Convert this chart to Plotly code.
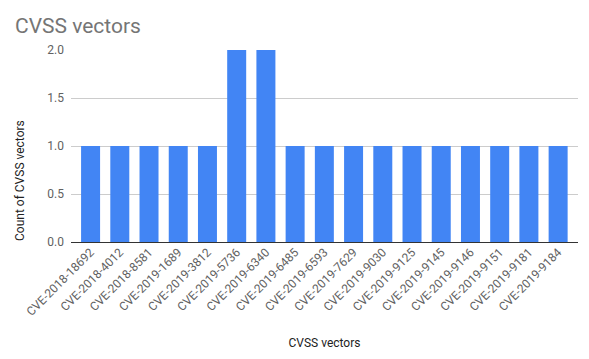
import plotly.graph_objects as go

categories = ["CVE-2018-18692", "CVE-2018-4012", "CVE-2018-8581", "CVE-2019-1689",
              "CVE-2019-3812", "CVE-2019-5736", "CVE-2019-6340", "CVE-2019-6485",
              "CVE-2019-6593", "CVE-2019-7629", "CVE-2019-9030", "CVE-2019-9125",
              "CVE-2019-9145", "CVE-2019-9146", "CVE-2019-9151", "CVE-2019-9181",
              "CVE-2019-9184"]
counts = [1, 1, 1, 1, 1, 2, 2, 1, 1, 1, 1, 1, 1, 1, 1, 1, 1]
y_ticks = [0.0, 0.5, 1.0, 1.5, 2.0]
y_tick_labels = ["0.0", "0.5", "1.0", "1.5", "2.0"]

fig = go.Figure(go.Bar(x=categories, y=counts, marker_color="#4285f4",
                       marker_line_width=0))

fig.update_layout(
    width=581, height=351,
    margin=dict(l=63, r=11, t=42, b=117, autoexpand=False),
    paper_bgcolor="white", plot_bgcolor="white",
    font=dict(family="Roboto", size=12, color="#616161"),
    title=dict(text="CVSS vectors", x=0.012, xanchor="left", y=0.95, yanchor="middle",
               font=dict(family="Roboto", size=21, color="#757575"), automargin=False),
    bargap=0.35,
    showlegend=False,
    xaxis=dict(
        range=[-0.67, 16.68], tickangle=-45, showgrid=False, ticks="",
        automargin=False,
        tickfont=dict(size=12, color="#616161"),
        title=dict(text="CVSS vectors", font=dict(size=12, color="#222222"), standoff=20),
    ),
    yaxis=dict(
        range=[0, 2], tickvals=y_ticks, ticktext=y_tick_labels,
        automargin=False,
        gridcolor="#cccccc", gridwidth=1, zeroline=True, zerolinecolor="#333333",
        zerolinewidth=1, ticks="", ticklabelstandoff=6,
        tickfont=dict(size=12, color="#616161"),
    ),
    annotations=[dict(
        text="Count of CVSS vectors", xref="paper", yref="paper",
        x=-0.1006, y=0.323, xanchor="center", yanchor="middle",
        textangle=-90, showarrow=False,
        font=dict(family="Roboto", size=12, color="#222222"),
    )],
)

fig.write_html("out.html")
